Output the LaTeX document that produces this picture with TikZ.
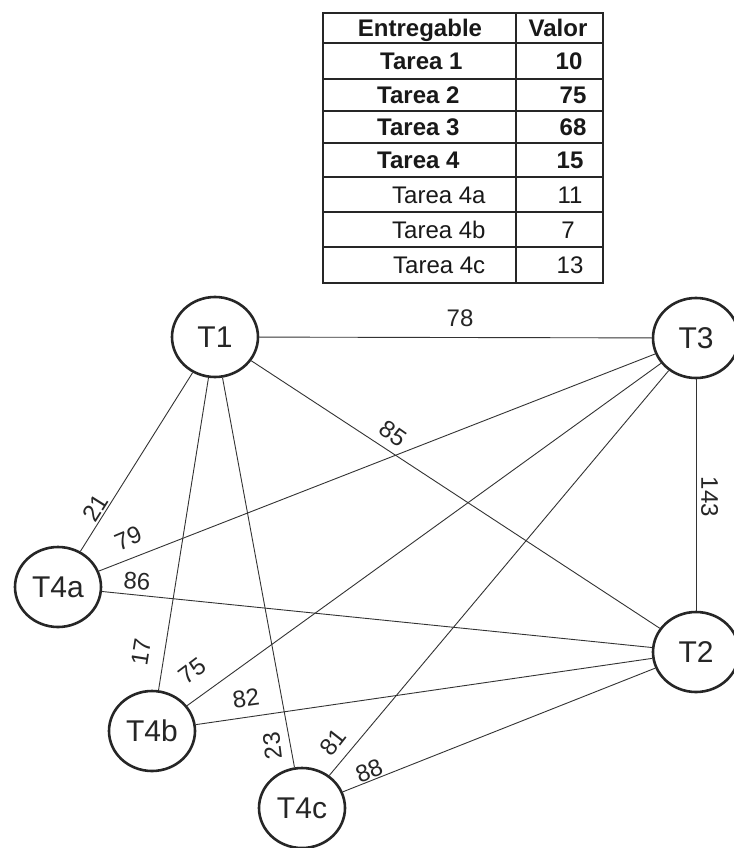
\documentclass[tikz,border=0pt]{standalone}
\usepackage{fontspec}
\setmainfont{Liberation Sans}
\usetikzlibrary{shapes.geometric}
\begin{document}
\begin{tikzpicture}[x=1pt,y=-1pt,
  task/.style={ellipse, draw=black!85, line width=2.6pt, minimum width=86pt, minimum height=80pt,
    inner sep=0pt, font=\fontsize{30}{32}\selectfont, text=black!85, text height=21.5pt, text depth=0pt},
  link/.style={draw=black!80, line width=0.9pt},
  wlabel/.style={font=\fontsize{24}{26}\selectfont, inner sep=0pt, text=black!85, text height=17.2pt, text depth=0pt},
  cell/.style={font=\fontsize{24}{26}\selectfont, inner sep=0pt, text=black!90, text height=17.2pt, text depth=0pt},
  bcell/.style={cell, font=\fontsize{24}{26}\selectfont\bfseries},
  grid/.style={draw=black!85, line width=1.2pt}
]
\useasboundingbox (0,0) rectangle (733,848);
\fill[white] (0,0) rectangle (733,848);

% table
\draw[grid, line width=1.4pt] (323,13) rectangle (603,283);
\foreach \yy in {43,79,111,143,177,212,247} \draw[grid] (323,\yy) -- (603,\yy);
\draw[grid, line width=1.8pt] (516,13) -- (516,283);

\node[bcell] (hE) at (420,28) {Entregable};
\node[bcell] (hV) at (558,28) {Valor};
\node[bcell, anchor=west] (r1) at (380,61) {Tarea 1};
\node[bcell, anchor=west] (r2) at (377,95) {Tarea 2};
\node[bcell, anchor=west] (r3) at (377,127) {Tarea 3};
\node[bcell, anchor=west] (r4) at (377,160) {Tarea 4};
\node[cell, anchor=west] (r4a) at (392,194.5) {Tarea 4a};
\node[cell, anchor=west] (r4b) at (392,229.5) {Tarea 4b};
\node[cell, anchor=west] (r4c) at (393,265) {Tarea 4c};
\node[bcell] (v1) at (569,61) {10};
\node[bcell] (v2) at (573,95) {75};
\node[bcell] (v3) at (573,127) {68};
\node[bcell] (v4) at (570,160) {15};
\node[cell] (v4a) at (570,194.5) {11};
\node[cell] (v4b) at (568,229.5) {7};
\node[cell] (v4c) at (570,265) {13};

% tasks
\node[task] (T1) at (215,337) {T1};
\node[task] (T3) at (696,338) {T3};
\node[task] (T2) at (696,652) {T2};
\node[task] (T4a) at (58,587) {T4a};
\node[task] (T4b) at (152,731) {T4b};
\node[task] (T4c) at (302,808) {T4c};

% connectors
\draw[link] (T1) -- (T3);
\draw[link] (T3) -- (T2);
\draw[link] (T1) -- (T2);
\draw[link] (T4a) -- (T1);
\draw[link] (T4b) -- (T1);
\draw[link] (T4c) -- (T1);
\draw[link] (T4a) -- (T3);
\draw[link] (T4b) -- (T3);
\draw[link] (T4c) -- (T3);
\draw[link] (T4a) -- (T2);
\draw[link] (T4b) -- (T2);
\draw[link] (T4c) -- (T2);

% weights
\node[wlabel] (w13) at (460,318) {78};
\node[wlabel, rotate=-90] (w32) at (710,497) {143};
\node[wlabel, rotate=-35] (w12) at (393,433) {85};
\node[wlabel, rotate=58] (w1a) at (95,508) {21};
\node[wlabel, rotate=23] (w3a) at (128,538) {79};
\node[wlabel, rotate=-4] (w2a) at (137,581) {86};
\node[wlabel, rotate=81] (w1b) at (141,652) {17};
\node[wlabel, rotate=37] (w3b) at (192,671) {75};
\node[wlabel, rotate=8] (w2b) at (246,698) {82};
\node[wlabel, rotate=97] (w1c) at (272,746) {23};
\node[wlabel, rotate=52] (w3c) at (333,742) {81};
\node[wlabel, rotate=22] (w2c) at (369,771) {88};
\end{tikzpicture}
\end{document}
